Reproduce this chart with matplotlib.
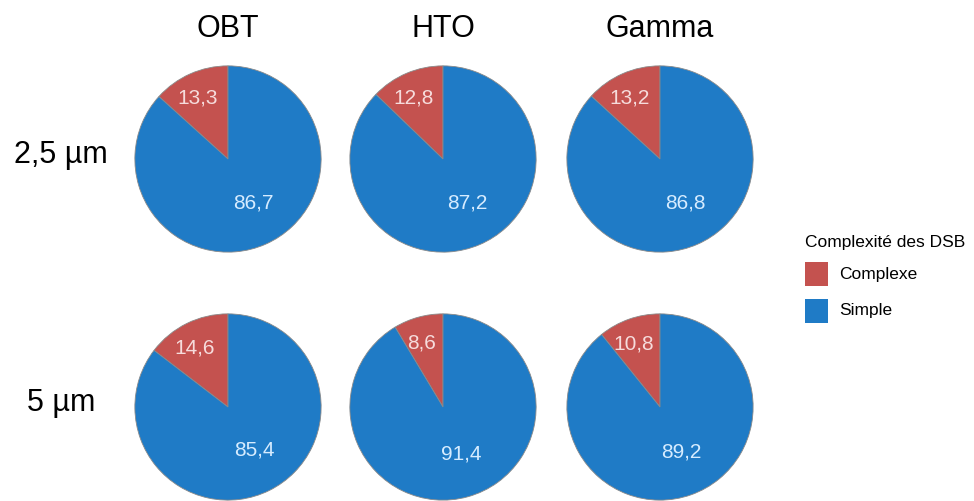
import numpy as np
import matplotlib.pyplot as plt
from matplotlib.patches import Rectangle

plt.rcParams['font.family'] = ['Liberation Sans', 'DejaVu Sans']

# Données (%)
colonnes = ['OBT', 'HTO', 'Gamma']
lignes = ['2,5 µm', '5 µm']
complexe = [[13.3, 12.8, 13.2],
            [14.6, 8.6, 10.8]]
simple = [[86.7, 87.2, 86.8],
          [85.4, 91.4, 89.2]]
categories = ['Complexe', 'Simple']
couleurs = ['#C4524F', '#1F7BC6']

W, H = 974, 501
fig = plt.figure(figsize=(W / 100, H / 100), dpi=100)

centres_x = [228, 443, 660]
centres_y = [159, 407]
r = 95

def fmt(v):
    return f'{v:.1f}'.replace('.', ',')

for i in range(2):
    for j in range(3):
        cx, cy = centres_x[j], centres_y[i]
        ax = fig.add_axes([(cx - r) / W, 1 - (cy + r) / H, 2 * r / W, 2 * r / H])
        vals = [complexe[i][j], simple[i][j]]
        ax.pie(vals, colors=couleurs, startangle=90, counterclock=True,
               wedgeprops=dict(edgecolor='#8a8a8a', linewidth=0.6))
        # étiquettes
        a1 = np.deg2rad(90 + vals[0] / 100 * 360 / 2 + 3)
        a2 = np.deg2rad(90 + vals[0] / 100 * 360 + vals[1] / 100 * 360 / 2 + 6)
        ax.text(0.73 * np.cos(a1), 0.73 * np.sin(a1), fmt(vals[0]),
                ha='center', va='center', fontsize=15, color='#F6DCDC')
        ax.text(0.54 * np.cos(a2), 0.54 * np.sin(a2), fmt(vals[1]),
                ha='center', va='center', fontsize=15, color='#D6ECFF')
        ax.set_xlim(-1.02, 1.02)
        ax.set_ylim(-1.02, 1.02)
        ax.set_aspect('equal')
        ax.axis('off')

for j, c in enumerate(colonnes):
    fig.text(centres_x[j] / W, 1 - 37 / H, c, ha='center', va='baseline', fontsize=22)
for i, l in enumerate(lignes):
    fig.text(61 / W, 1 - (centres_y[i] + 4) / H, l, ha='center', va='baseline', fontsize=22)

# Légende
fig.text(805 / W, 1 - 243 / H, 'Complexité des DSB', ha='left', va='center', fontsize=12.5)
for k, (cat, col) in enumerate(zip(categories, couleurs)):
    y = 274 + k * 37
    fig.patches.append(Rectangle((805 / W, 1 - (y + 12) / H), 23 / W, 24 / H,
                                 transform=fig.transFigure, facecolor=col,
                                 edgecolor='none'))
    fig.text(839 / W, 1 - y / H, cat, ha='left', va='center', fontsize=12.5)

fig.savefig('out.png', dpi=100)
